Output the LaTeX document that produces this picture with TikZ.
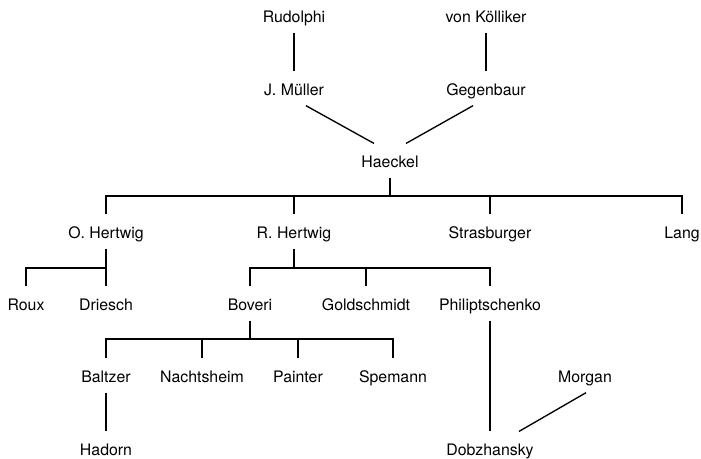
\documentclass[tikz,border=0pt]{standalone}
\usepackage{fontspec}
\setmainfont{TeX Gyre Heros}
\usetikzlibrary{calc}

\begin{document}
\begin{tikzpicture}[
      x=0.75pt, y=-0.75pt,
      line width=1pt,
      person/.style={anchor=base, inner sep=0pt, text height=17.7pt, text depth=7pt,
                     font=\fontsize{11.9}{14}\selectfont}
      ]
      \useasboundingbox (0,0) rectangle (701,459);

      \node[person] (rudolphi) at (294,22.7) {Rudolphi};
      \node[person] (koelliker) at (486,22.7) {von Kölliker};

      \node[person] (jmueller) at (294,95.7) {J. Müller};
      \node[person] (gegenbaur) at (486,95.7) {Gegenbaur};

      \node[person] (haeckel) at (390,167.7) {Haeckel};

      \node[person] (ohertwig) at (106,238.7) {O. Hertwig};
      \node[person] (rhertwig) at (294,238.7) {R. Hertwig};
      \node[person] (strasburger) at (490,238.7) {Strasburger};
      \node[person] (lang) at (682,238.7) {Lang};

      \node[person] (roux) at (26,310.7) {Roux};
      \node[person] (driesch) at (106,310.7) {Driesch};
      \node[person] (boveri) at (250,310.7) {Boveri};
      \node[person] (goldschmidt) at (366,310.7) {Goldschmidt};
      \node[person] (philiptschenko) at (490,310.7) {Philiptschenko};

      \node[person] (baltzer) at (106,382.7) {Baltzer};
      \node[person] (nachtsheim) at (202,382.7) {Nachtsheim};
      \node[person] (painter) at (298,382.7) {Painter};
      \node[person] (spemann) at (393,382.7) {Spemann};
      \node[person] (morgan) at (585,382.7) {Morgan};

      \node[person] (hadorn) at (106,455.7) {Hadorn};
      \node[person] (dobzhansky) at (490,455.7) {Dobzhansky};

      % bars of the sibling groups
      \coordinate (hbar) at (390,196);
      \coordinate (obar) at (106,268);
      \coordinate (rbar) at (294,268);
      \coordinate (bbar) at (250,339);

      \draw (rudolphi) -- (jmueller);
      \draw (koelliker) -- (gegenbaur);
      \draw ($(jmueller.south)+(12,0)$) -- ($(haeckel.north)+(-16,0)$);
      \draw ($(gegenbaur.south)+(-13,0)$) -- ($(haeckel.north)+(16,0)$);

      \draw (haeckel.south) -- (hbar);
      \draw (ohertwig.north) |- (hbar) -| (lang.north);
      \foreach \k in {rhertwig,strasburger}
        \draw (\k.north) -- (\k.north |- hbar);

      \draw (ohertwig.south) -- (obar);
      \draw (roux.north) |- (obar) -- (driesch.north);

      \draw (rhertwig.south) -- (rbar);
      \draw (boveri.north) |- (rbar) -| (philiptschenko.north);
      \draw (goldschmidt.north) -- (goldschmidt.north |- rbar);

      \draw (boveri.south) -- (bbar);
      \draw (baltzer.north) |- (bbar) -| (spemann.north);
      \foreach \k in {nachtsheim,painter}
        \draw (\k.north) -- (\k.north |- bbar);

      \draw (baltzer) -- (hadorn);
      \draw (philiptschenko) -- (dobzhansky);
      \draw ($(morgan.south)+(1,0)$) -- ($(dobzhansky.north)+(29,0)$);
    \end{tikzpicture}
\end{document}
